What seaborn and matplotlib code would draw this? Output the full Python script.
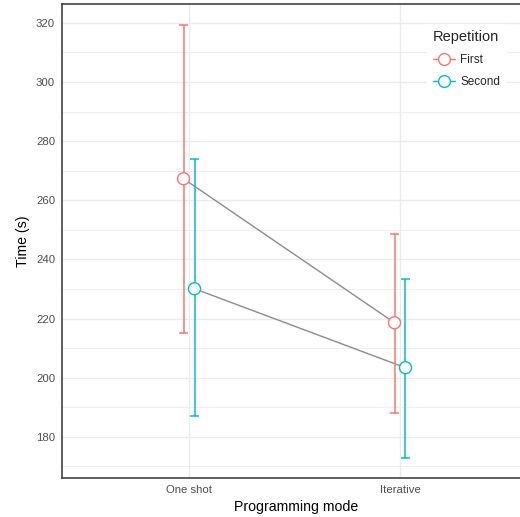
import numpy as np
import pandas as pd
import matplotlib
matplotlib.use("Agg")
import matplotlib.pyplot as plt
from matplotlib.lines import Line2D
from matplotlib.ticker import MultipleLocator
import seaborn as sns

# summary values
modes = ["One shot", "Iterative"]
repetitions = ["First", "Second"]
mean_first = [267.3, 218.6]
mean_second = [230.1, 203.4]
low_first = [215.2, 188.1]
low_second = [186.9, 173.0]
high_first = [319.2, 248.7]
high_second = [274.0, 233.5]

palette = {"First": "#F8766D", "Second": "#00BFC4"}
dodge = {"First": -0.026, "Second": 0.026}

df = pd.DataFrame({
    "mode": modes * 2,
    "rep": ["First"] * 2 + ["Second"] * 2,
    "time": mean_first + mean_second,
    "low": low_first + low_second,
    "high": high_first + high_second,
})
df["x"] = df["mode"].map({m: i for i, m in enumerate(modes)}) + df["rep"].map(dodge)

sns.set_style("whitegrid")
plt.rcParams["font.family"] = ["Liberation Sans", "DejaVu Sans"]

fig = plt.figure(figsize=(5.2, 5.17), dpi=100)
ax = fig.add_axes([62 / 520, 39 / 517, 1.02 - 62 / 520, (478 - 4) / 517])

# grey connecting lines
sns.lineplot(data=df, x="x", y="time", units="rep", estimator=None,
             color="#8C8C8C", lw=1.0, ax=ax, zorder=2, legend=False)

# error bars
for rep in repetitions:
    sub = df[df["rep"] == rep]
    ax.vlines(sub["x"], sub["low"], sub["high"], color=palette[rep], lw=1.1, zorder=3)
    for _, r in sub.iterrows():
        ax.hlines([r["low"], r["high"]], r["x"] - 0.022, r["x"] + 0.022,
                  color=palette[rep], lw=1.1, zorder=3)

sns.scatterplot(data=df, x="x", y="time", hue="rep", palette=palette,
                s=75, facecolor="white", linewidth=1.0, ax=ax, zorder=4, legend=False)
for coll in ax.collections[-1:]:
    coll.set_facecolor("white")
    coll.set_edgecolor([palette[r] for r in df["rep"]])

ax.set_xlim(-0.602, 1.618)
ax.set_ylim(166.1, 326.4)
ax.set_xticks(range(len(modes)))
ax.set_xticklabels(modes)
ax.yaxis.set_major_locator(MultipleLocator(20))
ax.yaxis.set_minor_locator(MultipleLocator(10))
ax.grid(which="major", color="#EBEBEB", lw=1.0)
ax.grid(which="minor", axis="y", color="#EBEBEB", lw=0.6)
ax.set_axisbelow(True)

ax.set_xlabel("Programming mode", fontsize=10.2, color="black", labelpad=4)
ax.set_ylabel("Time (s)", fontsize=10.2, color="black", labelpad=4)
ax.tick_params(axis="both", labelsize=8.2, labelcolor="#4D4D4D", colors="#333333",
               length=3, width=0.8, pad=2)
ax.tick_params(which="minor", length=0)
for side in ["left", "bottom", "top"]:
    ax.spines[side].set_color("#333333")
    ax.spines[side].set_linewidth(1.1)
ax.spines["right"].set_visible(False)

handles = [Line2D([0], [0], color=palette[r], lw=1.0, marker="o", markersize=8.5,
                  markerfacecolor="white", markeredgecolor=palette[r]) for r in repetitions]
leg = ax.legend(handles, repetitions, title="Repetition", loc="upper left",
                bbox_to_anchor=(0.766, 0.97), frameon=True, fontsize=8.5,
                title_fontsize=10.5, handlelength=1.9, borderpad=0.5,
                labelspacing=0.85, handletextpad=0.45, alignment="left")
leg.get_frame().set_facecolor("white")
leg.get_frame().set_edgecolor("white")
leg.get_frame().set_alpha(1.0)
leg.set_zorder(10)

fig.savefig("out.png", dpi=100)
